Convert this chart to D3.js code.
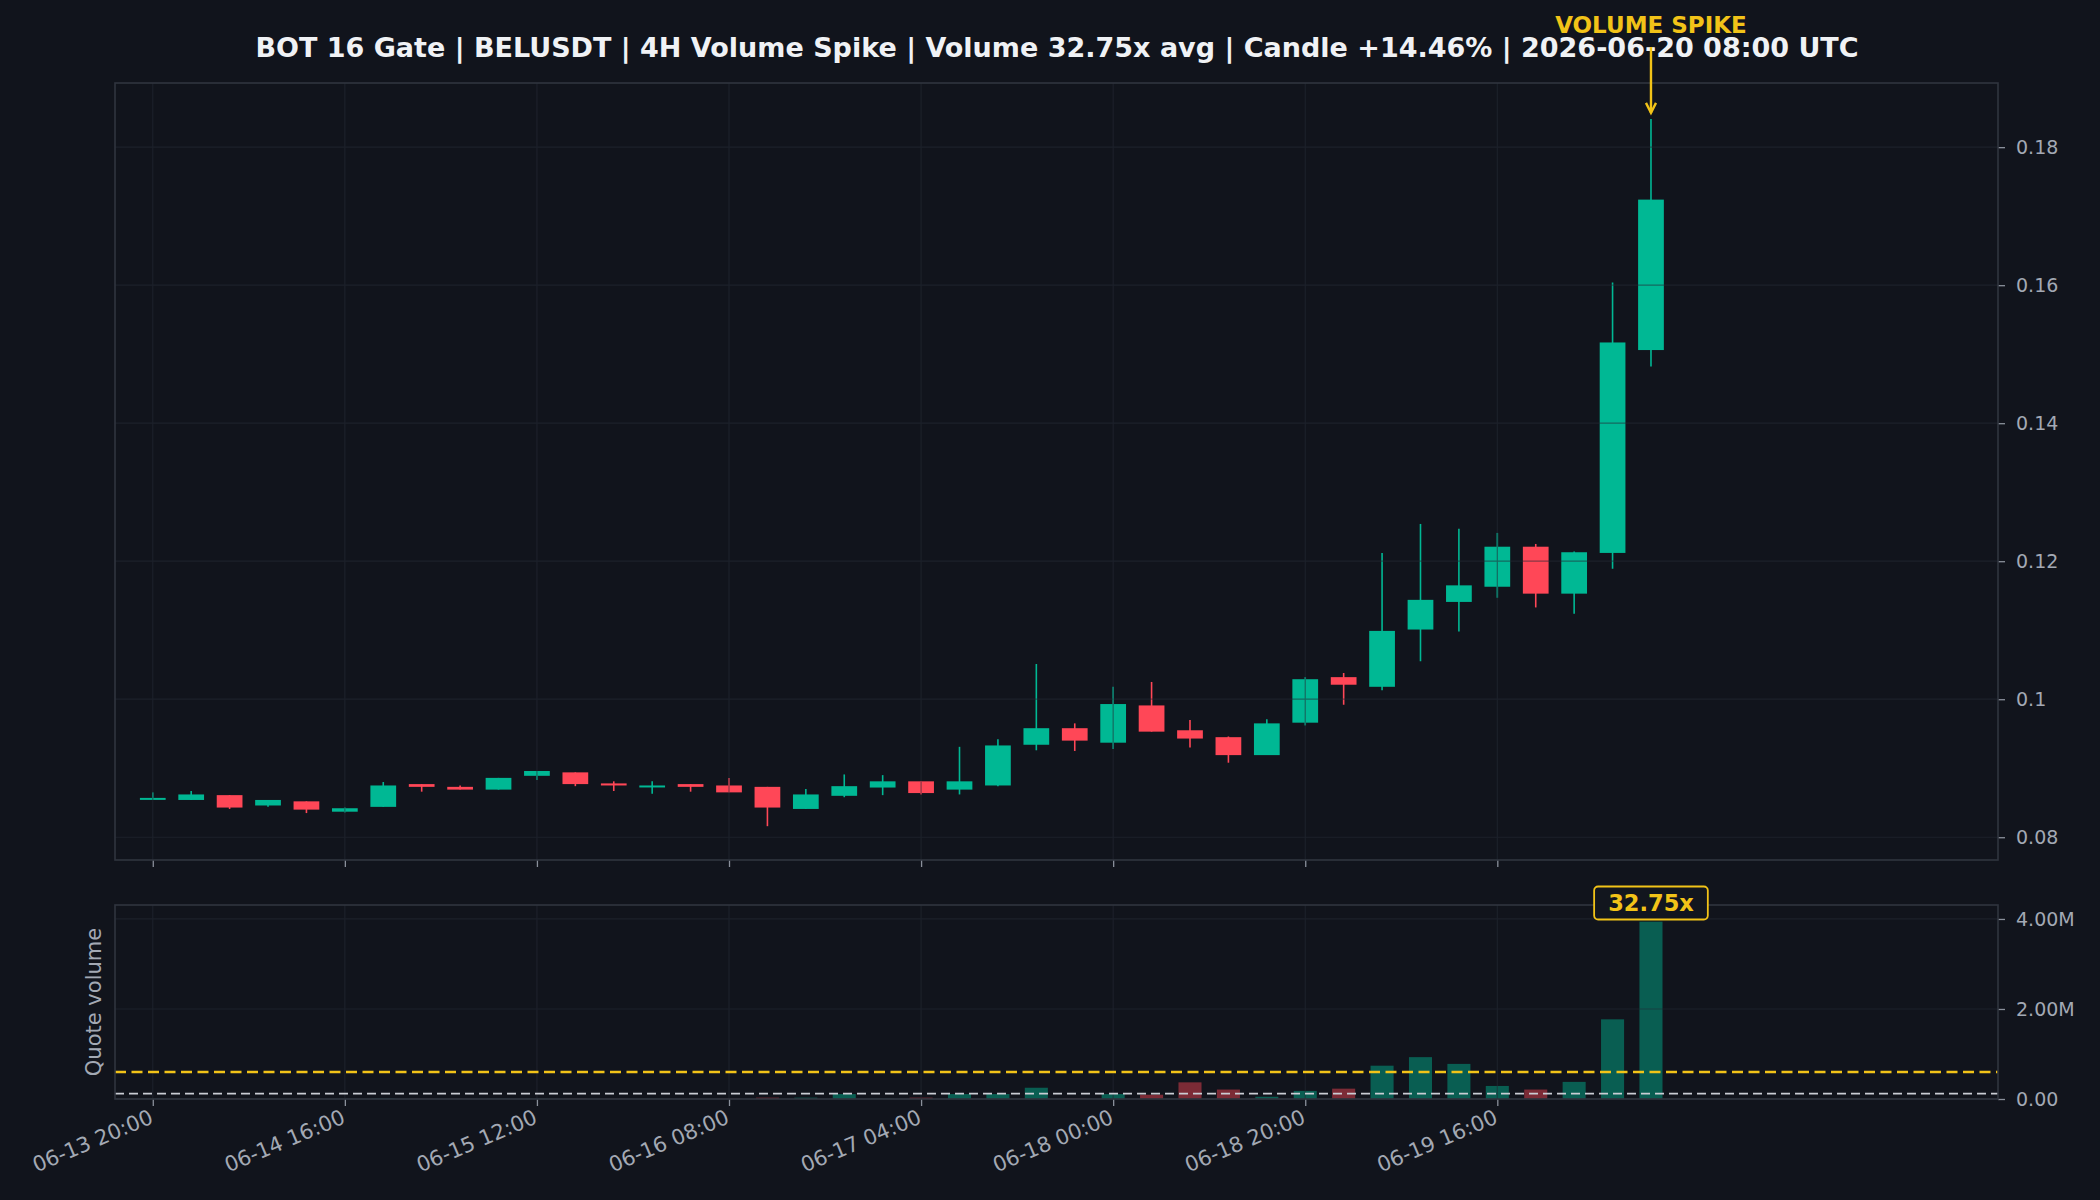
<!DOCTYPE html>
<html>
<head>
<meta charset="utf-8">
<script src="https://cdn.jsdelivr.net/npm/d3@7"></script>
<style>
  body { margin: 0; background: #11141c; }
  svg text { font-family: "DejaVu Sans", sans-serif; }
</style>
</head>
<body>
<div id="root"></div>
<script>
// candle data, 4H BELUSDT
const candleTimes = d3.utcHour.every(4).range(new Date("2026-06-13T20:00Z"), new Date("2026-06-20T12:00Z"));

const open  = [0.0857,0.0854,0.0861,0.0846,0.0852,0.0837,0.0844,0.0877,0.0873,0.0869,0.0889,0.0894,0.0878,0.0874,0.0877,0.0875,0.0873,0.0841,0.0860,0.0872,0.0881,0.0869,0.0875,0.0934,0.0958,0.0937,0.0991,0.0955,0.0945,0.0919,0.0966,0.1032,0.1018,0.1101,0.1141,0.1163,0.1221,0.1153,0.1212,0.1506];
const high  = [0.0865,0.0867,0.0861,0.0854,0.0852,0.0843,0.0880,0.0877,0.0875,0.0886,0.0896,0.0894,0.0881,0.0881,0.0877,0.0886,0.0873,0.0870,0.0891,0.0890,0.0881,0.0931,0.0942,0.1051,0.0965,0.1018,0.1025,0.0970,0.0946,0.0971,0.1032,0.1038,0.1212,0.1254,0.1247,0.1241,0.1225,0.1214,0.1604,0.1841];
const low   = [0.0857,0.0854,0.0841,0.0844,0.0835,0.0836,0.0844,0.0866,0.0869,0.0869,0.0883,0.0874,0.0867,0.0863,0.0866,0.0865,0.0816,0.0841,0.0858,0.0861,0.0862,0.0862,0.0874,0.0926,0.0925,0.0928,0.0953,0.0930,0.0908,0.0919,0.0962,0.0992,0.1013,0.1055,0.1098,0.1147,0.1133,0.1124,0.1189,0.1482];
const close = [0.0857,0.0862,0.0843,0.0854,0.0840,0.0842,0.0875,0.0873,0.0869,0.0886,0.0896,0.0877,0.0875,0.0875,0.0873,0.0865,0.0843,0.0862,0.0874,0.0881,0.0864,0.0881,0.0933,0.0958,0.0940,0.0993,0.0953,0.0943,0.0919,0.0965,0.1029,0.1021,0.1099,0.1144,0.1165,0.1221,0.1153,0.1213,0.1517,0.1724];
// quote volume in USDT
const volume = [6e3,4e3,8e3,3e3,5e3,4e3,12e3,4e3,3e3,6e3,5e3,7e3,4e3,5e3,3e3,6e3,30e3,30e3,110e3,8e3,30e3,110e3,110e3,250e3,10e3,110e3,95e3,370e3,210e3,50e3,180e3,230e3,740e3,930e3,780e3,290e3,210e3,380e3,1770e3,3940e3];

const avgVolume = 120e3;
const spikeThreshold = 600e3;
const spikeRatio = "32.75x";

const priceTicks = [0.08, 0.10, 0.12, 0.14, 0.16, 0.18];
const volumeTicks = [0, 2e6, 4e6];
const timeTicks = ["06-13 20:00","06-14 16:00","06-15 12:00","06-16 08:00","06-17 04:00","06-18 00:00","06-18 20:00","06-19 16:00"];

const title = "BOT 16 Gate | BELUSDT | 4H Volume Spike | Volume 32.75x avg | Candle +14.46% | 2026-06-20 08:00 UTC";

const W = 2100, H = 1200;
const mainBox = { l: 115, r: 1998, t: 83, b: 860 };
const volBox = { l: 115, r: 1998, t: 905, b: 1099 };

const UP = "#00b894", DOWN = "#ff4757", YELLOW = "#f2c318";
const GRID = "#262b36", BORDER = "#30353f", TICK = "#a3a9b4";

const candles = candleTimes.map((t, i) => ({
  t, o: open[i], h: high[i], l: low[i], c: close[i], v: volume[i]
}));

const parseTick = d3.utcParse("%Y-%m-%d %H:%M");
const tickDates = timeTicks.map(s => parseTick("2026-" + s));

const svg = d3.select("#root").append("svg")
  .attr("width", W).attr("height", H)
  .style("background", "#11141c");

const x = d3.scaleUtc()
  .domain([new Date("2026-06-13T16:04Z"), new Date("2026-06-21T20:08Z")])
  .range([mainBox.l, mainBox.r]);

const y = d3.scaleLinear().domain([0.0767, 0.1893]).range([mainBox.b, mainBox.t]);
const yv = d3.scaleLinear().domain([0, 4.31e6]).range([volBox.b, volBox.t]);

const step = x(candleTimes[1]) - x(candleTimes[0]);
const bodyW = step * 0.67;
const barW = step * 0.6;

function panel(box, yScale, ticks, fmt) {
  const g = svg.append("g");
  g.append("rect")
    .attr("x", box.l).attr("y", box.t)
    .attr("width", box.r - box.l).attr("height", box.b - box.t)
    .attr("fill", "#11141c");

  // right axis
  const ax = g.append("g")
    .attr("transform", `translate(${box.r},0)`)
    .call(d3.axisRight(yScale).tickValues(ticks).tickFormat(fmt).tickSize(7).tickPadding(11));
  ax.select(".domain").remove();
  ax.selectAll("line").attr("stroke", "#8a909b").attr("stroke-width", 1.3);
  ax.selectAll("text").attr("fill", TICK).style("font-size", "19px").style("font-family", "DejaVu Sans");

  // bottom tick marks
  const bx = g.append("g")
    .attr("transform", `translate(0,${box.b})`)
    .call(d3.axisBottom(x).tickValues(tickDates).tickFormat("").tickSize(7));
  bx.select(".domain").remove();
  bx.selectAll("line").attr("stroke", "#8a909b").attr("stroke-width", 1.3);
  return { g, bx };
}

function grid(box, yScale, ticks) {
  const gg = svg.append("g").attr("opacity", 0.55);
  gg.selectAll(".hg").data(ticks).join("line")
    .attr("x1", box.l).attr("x2", box.r)
    .attr("y1", d => yScale(d)).attr("y2", d => yScale(d))
    .attr("stroke", GRID).attr("stroke-width", 1.2);
  gg.selectAll(".vg").data(tickDates).join("line")
    .attr("x1", d => x(d)).attr("x2", d => x(d))
    .attr("y1", box.t).attr("y2", box.b)
    .attr("stroke", GRID).attr("stroke-width", 1.2);
}

function border(box) {
  svg.append("rect")
    .attr("x", box.l).attr("y", box.t)
    .attr("width", box.r - box.l).attr("height", box.b - box.t)
    .attr("fill", "none").attr("stroke", BORDER).attr("stroke-width", 1.6);
}

// ---- price panel
panel(mainBox, y, priceTicks, d3.format("~g"));

const cg = svg.append("g");
cg.selectAll("line.wick").data(candles).join("line")
  .attr("class", "wick")
  .attr("x1", d => x(d.t)).attr("x2", d => x(d.t))
  .attr("y1", d => y(d.h)).attr("y2", d => y(d.l))
  .attr("stroke", d => d.c >= d.o ? UP : DOWN)
  .attr("stroke-width", 1.6);
cg.selectAll("rect.body").data(candles).join("rect")
  .attr("class", "body")
  .attr("x", d => x(d.t) - bodyW / 2)
  .attr("width", bodyW)
  .attr("y", d => y(Math.max(d.o, d.c)))
  .attr("height", d => Math.max(2, Math.abs(y(d.o) - y(d.c))))
  .attr("fill", d => d.c >= d.o ? UP : DOWN);

grid(mainBox, y, priceTicks);
border(mainBox);

// ---- volume panel
const vp = panel(volBox, yv, volumeTicks, d => d === 0 ? "0.00" : d3.format(".2f")(d / 1e6) + "M");

svg.append("g").selectAll("rect").data(candles).join("rect")
  .attr("x", d => x(d.t) - barW / 2)
  .attr("width", barW)
  .attr("y", d => yv(d.v))
  .attr("height", d => volBox.b - yv(d.v))
  .attr("fill", d => d.c >= d.o ? UP : DOWN)
  .attr("fill-opacity", 0.45);

grid(volBox, yv, volumeTicks);

svg.append("line")
  .attr("x1", volBox.l).attr("x2", volBox.r)
  .attr("y1", yv(avgVolume)).attr("y2", yv(avgVolume))
  .attr("stroke", "#c9ccd3").attr("stroke-width", 1.8)
  .attr("stroke-dasharray", "9,5");
svg.append("line")
  .attr("x1", volBox.l).attr("x2", volBox.r)
  .attr("y1", yv(spikeThreshold)).attr("y2", yv(spikeThreshold))
  .attr("stroke", YELLOW).attr("stroke-width", 2.4)
  .attr("stroke-dasharray", "11,5.5");

border(volBox);

// x tick labels
vp.bx.selectAll(".tick").append("text")
  .attr("fill", TICK)
  .attr("text-anchor", "end")
  .attr("transform", "translate(-5,9) rotate(-23)")
  .attr("dy", "0.75em")
  .style("font-size", "21px")
  .text((d, i) => timeTicks[i]);

// y label
svg.append("text")
  .attr("transform", `translate(101,${(volBox.t + volBox.b) / 2}) rotate(-90)`)
  .attr("text-anchor", "middle")
  .attr("fill", TICK)
  .style("font-size", "21px")
  .text("Quote volume");

// ratio badge above the spike bar
const spike = candles[candles.length - 1];
const bx = x(spike.t), by = 903;
const badge = svg.append("g");
const bt = badge.append("text")
  .attr("x", bx).attr("y", by).attr("dy", "0.36em")
  .attr("text-anchor", "middle")
  .attr("fill", YELLOW)
  .style("font-size", "22.5px").style("font-weight", "bold")
  .text(spikeRatio);
const bw = bt.node().getComputedTextLength() + 28;
badge.insert("rect", "text")
  .attr("x", bx - bw / 2).attr("y", by - 16.5)
  .attr("width", bw).attr("height", 33).attr("rx", 4)
  .attr("fill", "#12161e").attr("stroke", YELLOW).attr("stroke-width", 1.8);

// title
svg.append("text")
  .attr("x", 1057).attr("y", 57)
  .attr("text-anchor", "middle")
  .attr("fill", "#f0f2f5")
  .style("font-size", "27px").style("font-weight", "bold")
  .text(title);

// VOLUME SPIKE annotation
const ax0 = x(spike.t);
svg.append("text")
  .attr("x", ax0).attr("y", 33)
  .attr("text-anchor", "middle")
  .attr("fill", YELLOW)
  .style("font-size", "23px").style("font-weight", "bold")
  .text("VOLUME SPIKE");
const tipY = y(spike.h) - 6;
svg.append("line")
  .attr("x1", ax0).attr("x2", ax0)
  .attr("y1", 47).attr("y2", tipY)
  .attr("stroke", YELLOW).attr("stroke-width", 2.4);
svg.append("path")
  .attr("d", `M${ax0 - 5},${tipY - 10} L${ax0},${tipY} L${ax0 + 5},${tipY - 10}`)
  .attr("fill", "none").attr("stroke", YELLOW).attr("stroke-width", 2.4);
</script>
</body>
</html>
